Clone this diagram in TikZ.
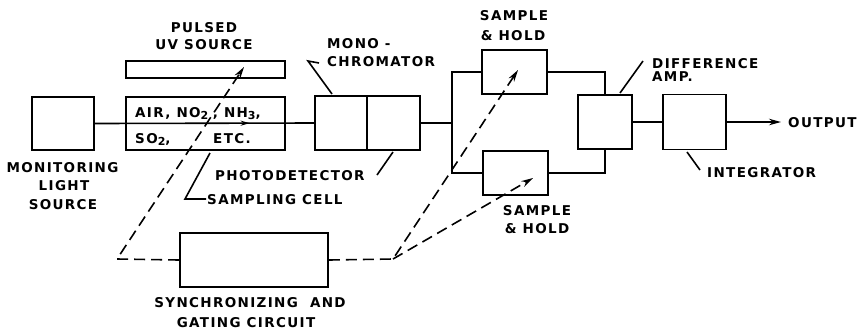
\documentclass[tikz,border=0pt]{standalone}
\usepackage{fontspec}
\setmainfont{DejaVu Sans}[LetterSpace=10]
\usetikzlibrary{arrows.meta,decorations.markings}
\newcommand\sbs[1]{\raisebox{-0.4ex}{\fontsize{11}{11}\selectfont #1}}
\begin{document}
\begin{tikzpicture}[x=1pt,y=-1pt,
  box/.style={draw, line width=1.8pt, inner sep=0pt},
  conn/.style={line width=1.6pt},
  lead/.style={line width=1.6pt},
  dsh/.style={line width=1.6pt, dash pattern=on 11pt off 6pt},
  tip/.style={-{Stealth[length=12pt,width=6.5pt]}},
  lbl/.style={inner sep=0pt, font=\fontsize{13.5}{15}\selectfont\bfseries},
  lw/.style={lbl, anchor=base west},
  lc/.style={lbl, anchor=base}]
\path[use as bounding box] (0,0) rectangle (861,333);
% boxes
\node[box, minimum width=62pt, minimum height=53pt] (mls) at (63,123.5) {};
\node[box, minimum width=159pt, minimum height=17pt] (uv) at (205.5,69.5) {};
\node[box, minimum width=159pt, minimum height=53pt] (cell) at (205.5,123.5) {};
\node[box, minimum width=52pt, minimum height=54pt] (mono1) at (341,123) {};
\node[box, minimum width=53pt, minimum height=54pt] (mono2) at (393.5,123) {};
\node[box, minimum width=65pt, minimum height=44pt] (sh1) at (514.5,72) {};
\node[box, minimum width=65pt, minimum height=44pt] (sh2) at (515.5,173) {};
\node[box, minimum width=54pt, minimum height=54pt] (diff) at (605,122) {};
\node[box, minimum width=63pt, minimum height=55pt] (integ) at (694.5,122) {};
\node[box, minimum width=148pt, minimum height=54pt] (sync) at (254,260) {};
% coordinates
\coordinate (bus) at (452,123);
\coordinate (out) at (781,122);
\coordinate (c1) at (117,259);
\coordinate (c2) at (393,259);
\coordinate (uvt) at (244,67);
\coordinate (sh1t) at (518,70);
\coordinate (sh2t) at (533,178);
% beam
\draw[conn, postaction={decorate}, decoration={markings, mark=at position 0.706 with {\arrow{Stealth[length=9pt,width=5pt]}}}] (mls.east) -- (mono1.west);
\draw[conn] (mono2.east) -- (bus);
\draw[line width=2.6pt] (sh1.west) -| (bus) |- (sh2.west);
\draw[conn] (sh1.east) -| (diff.north);
\draw[conn] (sh2.east) -| (diff.south);
\draw[conn] (diff.east) -- (integ.west);
\draw[conn, tip] (integ.east) -- (out);
% dashed gating
\draw[dsh, tip] (sync.west) -- (c1) -- (uvt);
\draw[dsh, tip] (sync.east) -- (c2) -- (sh1t);
\draw[dsh, tip] (c2) -- (sh2t);
% leaders
\coordinate (m1) at (308,61); \coordinate (m2) at (319,63); \coordinate (m3) at (332,94);
\draw[lead] (m2) -- (m1) -- (m3);
\coordinate (p1) at (377,175); \coordinate (p2) at (393,152);
\draw[lead] (p1) -- (p2);
\coordinate (s1) at (210,153); \coordinate (s2) at (185,199); \coordinate (s3) at (206,199);
\draw[lead] (s1) -- (s2) -- (s3);
\coordinate (d1) at (620,93); \coordinate (d2) at (643,61);
\draw[lead] (d1) -- (d2);
\coordinate (i1) at (687,152); \coordinate (i2) at (700,170);
\draw[lead] (i1) -- (i2);
% labels
\node[lc] (t1) at (204,32) {PULSED};
\node[lc] (t2) at (204,49) {UV SOURCE};
\node[lc] (t3) at (62.5,172) {MONITORING};
\node[lc] (t4) at (64,190) {LIGHT};
\node[lc] (t5) at (63,209) {SOURCE};
\node[lw] (t6) at (327,48) {MONO -};
\node[lw] (t7) at (327,66) {CHROMATOR};
\node[lw] (t8) at (215,180) {PHOTODETECTOR};
\node[lw] (t9) at (207,204) {SAMPLING CELL};
\node[lc] (t10) at (514,20) {SAMPLE};
\node[lc] (t11) at (513,40) {\& HOLD};
\node[lc] (t12) at (537,215) {SAMPLE};
\node[lc] (t13) at (537,233) {\& HOLD};
\node[lw] (t14) at (652,68) {DIFFERENCE};
\node[lw] (t15) at (652,81) {AMP.};
\node[lw] (t16) at (788,127) {OUTPUT};
\node[lw] (t17) at (707,177) {INTEGRATOR};
\node[lc] (t18) at (250,307) {SYNCHRONIZING\ \ AND};
\node[lc] (t19) at (246,327) {GATING CIRCUIT};
\node[lw] (t20) at (135,117) {AIR, NO\sbs{2}\,\,, NH\sbs{3},};
\node[lw] (t21) at (135,143) {SO\sbs{2},};
\node[lw] (t22) at (213,143) {ETC.};
\end{tikzpicture}
\end{document}
